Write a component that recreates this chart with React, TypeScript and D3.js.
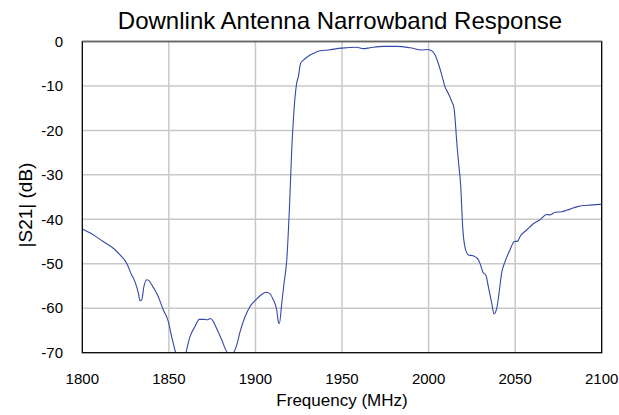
import React from "react";
import * as d3 from "d3";

const freqMHz = [
  1800, 1806.4, 1812.1, 1817.9, 1821.8, 1825.6, 1828.5, 1830.4, 1832.4, 1833.3, 1834.3, 1835.6, 1837.2, 1838.5,
  1841, 1843.9, 1846.8, 1849.7, 1851.6, 1853.9, 1855.5, 1858.5, 1859.9, 1862.2, 1865.1, 1867.6, 1870.3, 1871.8,
  1874.2, 1875.7, 1878, 1880.5, 1883.4, 1884.9, 1886, 1887.2, 1889.2, 1891.1, 1894, 1896.9, 1900.3, 1903.6,
  1906.1, 1908, 1910.3, 1912.3, 1913.2, 1913.8, 1915.2, 1916.5, 1918.1, 1919.8, 1921, 1921.9, 1922.9, 1923.8,
  1924.8, 1926.1, 1927.7, 1930.5, 1933.4, 1937.3, 1942.1, 1949.8, 1958.5, 1962.3, 1966.2, 1973.9, 1981.6,
  1989.3, 1996, 1998.9, 2001.8, 2003.7, 2005.6, 2007.6, 2009.5, 2011.4, 2013.4, 2014.7, 2015.3, 2016.2, 2017.2,
  2018.6, 2019.7, 2021, 2023, 2025.8, 2028.2, 2029.7, 2031.3, 2033.2, 2034.5, 2036.5, 2037.8, 2039.4, 2040.7,
  2042.2, 2044.2, 2047, 2049.5, 2051.5, 2052.8, 2056.7, 2060.5, 2064.4, 2068.2, 2070.3, 2073, 2076.9, 2081.7,
  2085.6, 2089.4, 2093.2, 2100,
];

const s21dB = [
  -42.2, -43.5, -45.0, -46.5, -48.0, -49.9, -52.5, -54.0, -56.6, -58.3, -58.1, -55.1, -53.6, -53.8,
  -55.3, -57.4, -60.4, -63.0, -66.4, -70.0, -72.5, -72.5, -70.0, -66.4, -64.1, -62.5, -62.5, -62.6,
  -62.3, -63.0, -64.9, -67.1, -69.8, -70.5, -71.0, -70.2, -68.3, -65.3, -61.9, -59.6, -58.1, -56.9,
  -56.4, -56.6, -58.1, -60.4, -63.0, -63.5, -58.9, -54.4, -49.1, -36.0, -24.0, -17.7, -12.4, -9.4,
  -7.9, -4.9, -4.2, -3.3, -2.7, -2.1, -1.9, -1.5, -1.3, -1.6, -1.4, -1.1, -1.1,
  -1.4, -1.9, -1.8, -2.1, -3.0, -4.9, -7.5, -10.2, -11.7, -13.5, -15.0, -17.3, -22.2, -26.7,
  -32.7, -41.7, -46.2, -48.0, -48.2, -48.8, -49.9, -51.8, -52.7, -55.1, -58.9, -61.3, -60.0, -56.6,
  -52.1, -49.5, -46.9, -45.0, -44.9, -43.9, -42.4, -41.0, -40.1, -38.9, -39.0, -38.4, -38.3, -37.7,
  -37.2, -36.9, -36.8, -36.6,
];

const xTicks = [1800, 1850, 1900, 1950, 2000, 2050, 2100];
const yTicks = [0, -10, -20, -30, -40, -50, -60, -70];

const W = 619;
const H = 415;
const left = 82.3;
const right = 601.7;
const top = 41.5;
const bottom = 352.7;

export default function App() {
  const x = d3.scaleLinear().domain([1800, 2100]).range([left, right]);
  const y = d3.scaleLinear().domain([-70, 0]).range([bottom, top]);
  const pts: [number, number][] = freqMHz.map((f, i) => [f, s21dB[i]]);
  const line = d3
    .line<[number, number]>()
    .x((d) => x(d[0]))
    .y((d) => y(d[1]))
    .curve(d3.curveMonotoneX);
  const font = "Arial, 'Liberation Sans', sans-serif";
  return (
    <svg
      width={W}
      height={H}
      style={{ position: "absolute", left: 0, top: 0, background: "#fff" }}
      fontFamily={font}
    >
      <defs>
        <clipPath id="plotclip">
          <rect x={left} y={top} width={right - left} height={bottom - top} />
        </clipPath>
      </defs>
      {xTicks.slice(1, -1).map((t) => (
        <line key={"gx" + t} x1={x(t)} x2={x(t)} y1={top} y2={bottom} stroke="#c8c8c8" strokeWidth={1.5} />
      ))}
      {yTicks.slice(1, -1).map((t) => (
        <line key={"gy" + t} x1={left} x2={right} y1={y(t)} y2={y(t)} stroke="#c8c8c8" strokeWidth={1.5} />
      ))}
      <path
        d={line(pts) || ""}
        fill="none"
        stroke="#3448a8"
        strokeWidth={1.1}
        clipPath="url(#plotclip)"
      />
      <rect x={left} y={top} width={right - left} height={bottom - top} fill="none" stroke="#000" strokeWidth={1.3} />
      <line x1={left} x2={right} y1={top} y2={top} stroke="#666" strokeWidth={1.5} />
      {yTicks.map((t) => (
        <text key={"ty" + t} x={63} y={y(t)} dy="0.35em" textAnchor="end" fontSize={15} fill="#000">
          {t}
        </text>
      ))}
      {xTicks.map((t) => (
        <text key={"tx" + t} x={x(t)} y={384} textAnchor="middle" fontSize={15} fill="#000">
          {t}
        </text>
      ))}
      <text x={340} y={29} textAnchor="middle" fontSize={24} fill="#000">
        Downlink Antenna Narrowband Response
      </text>
      <text x={342} y={406} textAnchor="middle" fontSize={17} fill="#000">
        Frequency (MHz)
      </text>
      <text
        transform={`translate(32,205) rotate(-90)`}
        textAnchor="middle"
        fontSize={19}
        fill="#000"
      >
        |S21| (dB)
      </text>
    </svg>
  );
}
